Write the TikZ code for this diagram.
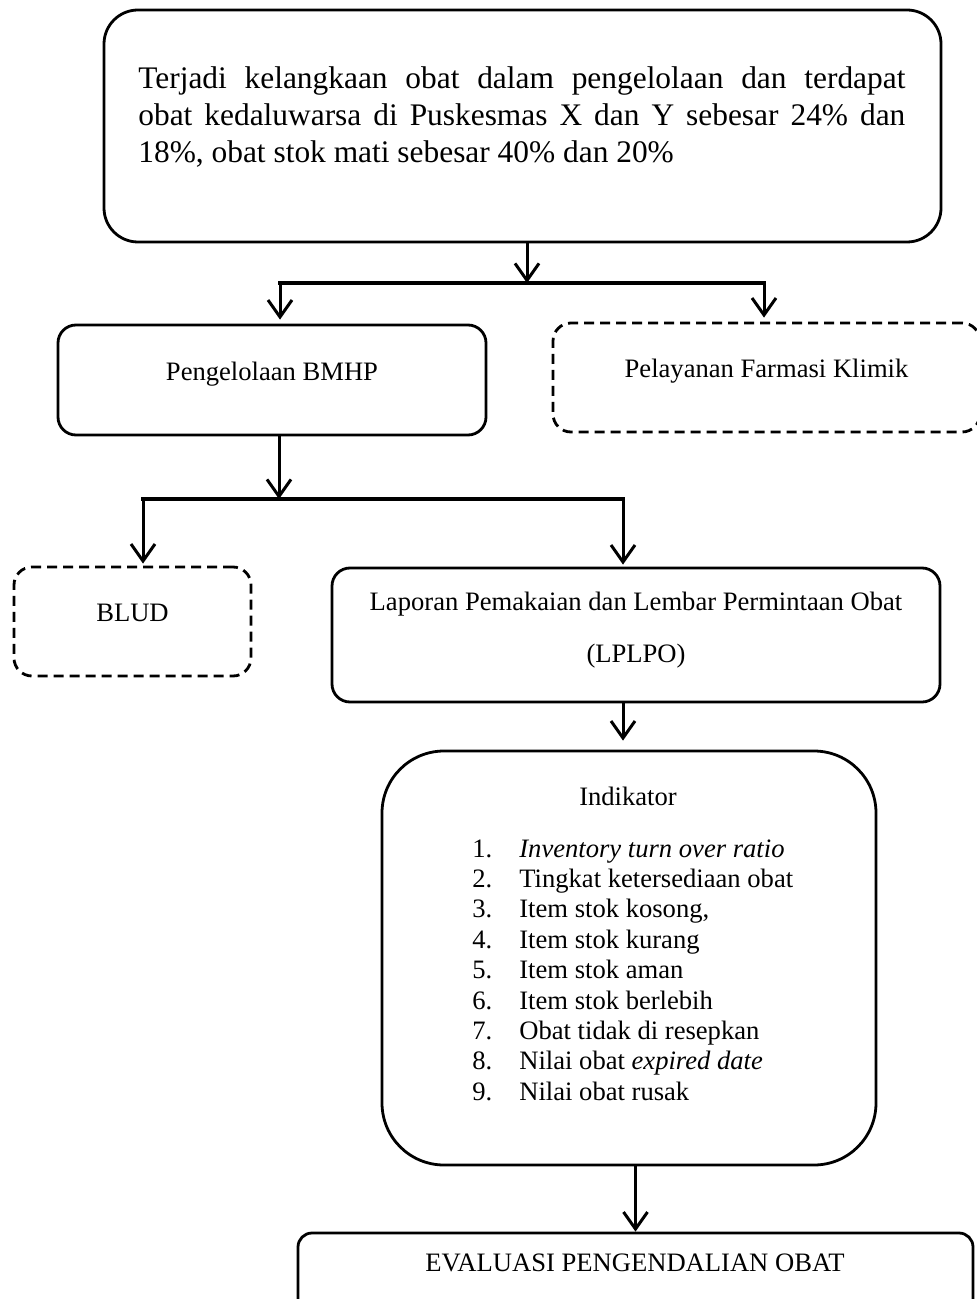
\documentclass[tikz,border=0pt]{standalone}
\usepackage{fontspec}
\setmainfont{Liberation Serif}
\usetikzlibrary{arrows.meta}
\tikzset{
    solidbox/.style={rectangle,draw,line width=1.4pt,rounded corners=9pt,inner sep=0pt},
    dashbox/.style={solidbox,dash pattern=on 5pt off 3pt},
    lbl/.style={inner sep=0pt,font=\fontsize{13.3}{15.2}\selectfont},
    directed/.style={line width=1.5pt,arrows={-Straight Barb[length=8.5pt,width=12pt]}},
    bus/.style={line width=2pt,line cap=rect},
    }
\begin{document}
\begin{tikzpicture}[x=0.5pt,y=-0.5pt]
	\useasboundingbox (0,0) rectangle (977,1299);
		\node[solidbox,rounded corners=17pt,minimum width=418.5pt,minimum height=116pt] (masalah) at (522.5,126) {};
		\node[lbl,font=\fontsize{15.7}{18.5}\selectfont,align=left,anchor=base west] (masalahT) at (138,163) {\makebox[383.5pt][s]{Terjadi kelangkaan obat dalam pengelolaan dan terdapat}\\\makebox[383.5pt][s]{obat kedaluwarsa di Puskesmas X dan Y sebesar 24\% dan}\\18\%, obat stok mati sebesar 40\% dan 20\%};
		\coordinate (j1) at (527,283);
		\coordinate (j1l) at (280,283);
		\coordinate (j1r) at (764,283);
		\node[solidbox,minimum width=214pt,minimum height=55pt] (bmhp) at (272,380) {};
		\node[lbl,anchor=base] (bmhpT) at (bmhp.center) {Pengelolaan BMHP};
		\node[dashbox,minimum width=213.5pt,minimum height=54.5pt] (klinik) at (766.5,377.5) {};
		\node[lbl,anchor=base] (klinikT) at (klinik.center) {Pelayanan Farmasi Klimik};
		\coordinate (j2) at (279,499);
		\coordinate (j2l) at (143,499);
		\coordinate (j2r) at (623,499);
		\node[dashbox,minimum width=118.5pt,minimum height=54.5pt] (blud) at (132.5,621.5) {};
		\node[lbl,anchor=base] (bludT) at (blud.center) {BLUD};
		\node[solidbox,minimum width=304pt,minimum height=67pt] (lplpo) at (636,635) {};
		\node[lbl,align=center,anchor=base] (lplpoT) at (636,662) {Laporan Pemakaian dan Lembar Permintaan Obat\\[10.8pt](LPLPO)};
		\node[solidbox,rounded corners=31pt,minimum width=247pt,minimum height=207pt] (indikator) at (629,958) {};
		\node[lbl,anchor=base] (indikatorT) at (628,805) {Indikator};
		\node[lbl,anchor=base west] (daftar) at (472,857) {\begin{tabular}[t]{@{}l@{\hspace{13.5pt}}l@{}}
			1. & \textit{Inventory turn over ratio}\\
			2. & Tingkat ketersediaan obat\\
			3. & Item stok kosong,\\
			4. & Item stok kurang\\
			5. & Item stok aman\\
			6. & Item stok berlebih\\
			7. & Obat tidak di resepkan\\
			8. & Nilai obat \textit{expired date}\\
			9. & Nilai obat rusak
			\end{tabular}};
		\node[solidbox,rounded corners=7pt,minimum width=337.5pt,minimum height=48.5pt] (evaluasi) at (635.5,1281.5) {};
		\node[lbl,anchor=base] (evaluasiT) at (635,1271) {EVALUASI PENGENDALIAN OBAT};

	\draw[directed] (masalah.south -| j1) to (j1);
	\draw[bus] (j1l) to (j1r);
	\draw[directed,shorten >=2pt] (j1l) to (bmhp.north -| j1l);
	\draw[directed,shorten >=2pt] (j1r) to (klinik.north -| j1r);
	\draw[directed] (bmhp.south -| j2) to (j2);
	\draw[bus] (j2l) to (j2r);
	\draw[directed,shorten >=1pt] (j2l) to (blud.north -| j2l);
	\draw[directed,shorten >=1pt] (j2r) to (lplpo.north -| j2r);
	\draw[directed,shorten >=4.5pt] (lplpo.south -| j2r) to (indikator.north -| j2r);
	\draw[directed] (indikator.south -| evaluasi.north) to (evaluasi.north);
\end{tikzpicture}
\end{document}
